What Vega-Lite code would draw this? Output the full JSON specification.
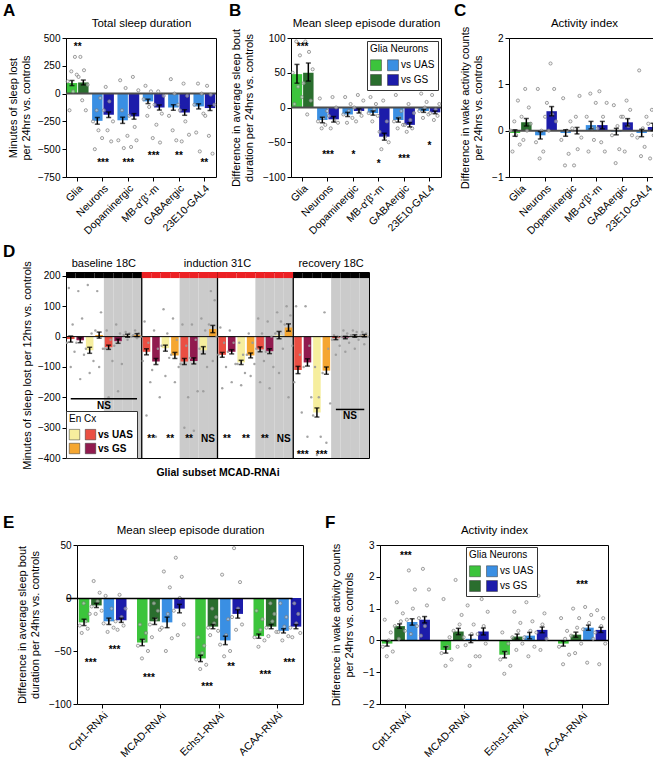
{
"$schema":"https://vega.github.io/schema/vega-lite/v6.json",
"padding":{"left":2,"top":1,"right":0,"bottom":0},
"background":"white",
"config":{"font":"Liberation Sans","view":{"stroke":"black","strokeWidth":1},
"axis":{"grid":false,"labelColor":"black","titleColor":"black","tickColor":"black","domainColor":"black","labelFontSize":10,"titleFontSize":11,"titleFontWeight":"normal","tickSize":4,"labelFont":"Liberation Sans","titleFont":"Liberation Sans"},
"legend":{"labelFont":"Liberation Sans","titleFont":"Liberation Sans"},
"title":{"font":"Liberation Sans"}},
"resolve":{"scale":{"color":"independent"},"legend":{"color":"independent"}},
"spacing":5,
"datasets":{
"A_bars":[
{"c":"Glia","o":"UAS","k":"Glia vs UAS","m":95,"lo":72,"hi":118},
{"c":"Glia","o":"GS","k":"Glia vs GS","m":100,"lo":78,"hi":122},
{"c":"Neurons","o":"UAS","k":"Neurons vs UAS","m":-245,"lo":-275,"hi":-215},
{"c":"Neurons","o":"GS","k":"Neurons vs GS","m":-190,"lo":-215,"hi":-165},
{"c":"Dopaminergic","o":"UAS","k":"Neurons vs UAS","m":-240,"lo":-268,"hi":-212},
{"c":"Dopaminergic","o":"GS","k":"Neurons vs GS","m":-205,"lo":-230,"hi":-180},
{"c":"MB-α'β'-m","o":"UAS","k":"Neurons vs UAS","m":-70,"lo":-90,"hi":-50},
{"c":"MB-α'β'-m","o":"GS","k":"Neurons vs GS","m":-125,"lo":-148,"hi":-102},
{"c":"GABAergic","o":"UAS","k":"Neurons vs UAS","m":-125,"lo":-150,"hi":-100},
{"c":"GABAergic","o":"GS","k":"Neurons vs GS","m":-170,"lo":-195,"hi":-145},
{"c":"23E10-GAL4","o":"UAS","k":"Neurons vs UAS","m":-115,"lo":-138,"hi":-92},
{"c":"23E10-GAL4","o":"GS","k":"Neurons vs GS","m":-130,"lo":-152,"hi":-108}],
"A_dots":[
{"c":"Glia","s":0,"v":110},{"c":"Glia","s":1,"v":-150},{"c":"Glia","s":2,"v":200},{"c":"Glia","s":3,"v":20},{"c":"Glia","s":4,"v":330},{"c":"Glia","s":5,"v":170},
{"c":"Glia","s":6,"v":150},{"c":"Glia","s":7,"v":330},{"c":"Glia","s":8,"v":-60},{"c":"Glia","s":9,"v":210},{"c":"Glia","s":10,"v":-150},{"c":"Glia","s":11,"v":80},
{"c":"Neurons","s":0,"v":-250},{"c":"Neurons","s":1,"v":-500},{"c":"Neurons","s":2,"v":-150},{"c":"Neurons","s":3,"v":-330},{"c":"Neurons","s":4,"v":-40},{"c":"Neurons","s":5,"v":-400},
{"c":"Neurons","s":6,"v":-150},{"c":"Neurons","s":7,"v":60},{"c":"Neurons","s":8,"v":-330},{"c":"Neurons","s":9,"v":-70},{"c":"Neurons","s":10,"v":-430},{"c":"Neurons","s":11,"v":-250},
{"c":"Dopaminergic","s":0,"v":-420},{"c":"Dopaminergic","s":1,"v":120},{"c":"Dopaminergic","s":2,"v":-150},{"c":"Dopaminergic","s":3,"v":-490},{"c":"Dopaminergic","s":4,"v":50},{"c":"Dopaminergic","s":5,"v":-380},
{"c":"Dopaminergic","s":6,"v":-200},{"c":"Dopaminergic","s":7,"v":-480},{"c":"Dopaminergic","s":8,"v":150},{"c":"Dopaminergic","s":9,"v":-300},{"c":"Dopaminergic","s":10,"v":-420},{"c":"Dopaminergic","s":11,"v":30},
{"c":"MB-α'β'-m","s":0,"v":-50},{"c":"MB-α'β'-m","s":1,"v":70},{"c":"MB-α'β'-m","s":2,"v":-200},{"c":"MB-α'β'-m","s":3,"v":-120},{"c":"MB-α'β'-m","s":4,"v":20},{"c":"MB-α'β'-m","s":5,"v":-400},
{"c":"MB-α'β'-m","s":6,"v":-100},{"c":"MB-α'β'-m","s":7,"v":-280},{"c":"MB-α'β'-m","s":8,"v":20},{"c":"MB-α'β'-m","s":9,"v":-440},{"c":"MB-α'β'-m","s":10,"v":-180},{"c":"MB-α'β'-m","s":11,"v":-20},
{"c":"GABAergic","s":0,"v":-200},{"c":"GABAergic","s":1,"v":130},{"c":"GABAergic","s":2,"v":-330},{"c":"GABAergic","s":3,"v":0},{"c":"GABAergic","s":4,"v":-420},{"c":"GABAergic","s":5,"v":-100},
{"c":"GABAergic","s":6,"v":-150},{"c":"GABAergic","s":7,"v":-430},{"c":"GABAergic","s":8,"v":90},{"c":"GABAergic","s":9,"v":-250},{"c":"GABAergic","s":10,"v":-20},{"c":"GABAergic","s":11,"v":-370},
{"c":"23E10-GAL4","s":0,"v":-100},{"c":"23E10-GAL4","s":1,"v":-350},{"c":"23E10-GAL4","s":2,"v":90},{"c":"23E10-GAL4","s":3,"v":-520},{"c":"23E10-GAL4","s":4,"v":0},{"c":"23E10-GAL4","s":5,"v":-180},
{"c":"23E10-GAL4","s":6,"v":-200},{"c":"23E10-GAL4","s":7,"v":70},{"c":"23E10-GAL4","s":8,"v":-380},{"c":"23E10-GAL4","s":9,"v":-10},{"c":"23E10-GAL4","s":10,"v":-540},{"c":"23E10-GAL4","s":11,"v":-100}],
"A_stars":[
{"c":"Glia","t":"**","y":420},{"c":"Neurons","t":"***","y":-625},{"c":"Dopaminergic","t":"***","y":-625},{"c":"MB-α'β'-m","t":"***","y":-565},{"c":"GABAergic","t":"**","y":-565},{"c":"23E10-GAL4","t":"**","y":-625}],
"B_bars":[
{"c":"Glia","o":"UAS","k":"Glia vs UAS","m":48,"lo":35,"hi":62},
{"c":"Glia","o":"GS","k":"Glia vs GS","m":50,"lo":38,"hi":64},
{"c":"Neurons","o":"UAS","k":"Neurons vs UAS","m":-18,"lo":-22,"hi":-14},
{"c":"Neurons","o":"GS","k":"Neurons vs GS","m":-17,"lo":-21,"hi":-13},
{"c":"Dopaminergic","o":"UAS","k":"Neurons vs UAS","m":-10,"lo":-13,"hi":-7},
{"c":"Dopaminergic","o":"GS","k":"Neurons vs GS","m":-5,"lo":-8,"hi":-2},
{"c":"MB-α'β'-m","o":"UAS","k":"Neurons vs UAS","m":-8,"lo":-11,"hi":-5},
{"c":"MB-α'β'-m","o":"GS","k":"Neurons vs GS","m":-42,"lo":-47,"hi":-37},
{"c":"GABAergic","o":"UAS","k":"Neurons vs UAS","m":-18,"lo":-21,"hi":-15},
{"c":"GABAergic","o":"GS","k":"Neurons vs GS","m":-25,"lo":-28,"hi":-22},
{"c":"23E10-GAL4","o":"UAS","k":"Neurons vs UAS","m":-5,"lo":-7,"hi":-3},
{"c":"23E10-GAL4","o":"GS","k":"Neurons vs GS","m":-7,"lo":-9,"hi":-5}],
"B_dots":[
{"c":"Glia","s":0,"v":50},{"c":"Glia","s":1,"v":5},{"c":"Glia","s":2,"v":95},{"c":"Glia","s":3,"v":30},{"c":"Glia","s":4,"v":75},{"c":"Glia","s":5,"v":15},
{"c":"Glia","s":6,"v":35},{"c":"Glia","s":7,"v":95},{"c":"Glia","s":8,"v":-10},{"c":"Glia","s":9,"v":80},{"c":"Glia","s":10,"v":10},{"c":"Glia","s":11,"v":55},
{"c":"Neurons","s":0,"v":-20},{"c":"Neurons","s":1,"v":13},{"c":"Neurons","s":2,"v":-30},{"c":"Neurons","s":3,"v":-15},{"c":"Neurons","s":4,"v":-25},{"c":"Neurons","s":5,"v":-5},
{"c":"Neurons","s":6,"v":-12},{"c":"Neurons","s":7,"v":-30},{"c":"Neurons","s":8,"v":15},{"c":"Neurons","s":9,"v":-18},{"c":"Neurons","s":10,"v":0},{"c":"Neurons","s":11,"v":-22},
{"c":"Dopaminergic","s":0,"v":-10},{"c":"Dopaminergic","s":1,"v":15},{"c":"Dopaminergic","s":2,"v":-22},{"c":"Dopaminergic","s":3,"v":-5},{"c":"Dopaminergic","s":4,"v":5},{"c":"Dopaminergic","s":5,"v":-15},
{"c":"Dopaminergic","s":6,"v":0},{"c":"Dopaminergic","s":7,"v":-20},{"c":"Dopaminergic","s":8,"v":18},{"c":"Dopaminergic","s":9,"v":-5},{"c":"Dopaminergic","s":10,"v":-12},{"c":"Dopaminergic","s":11,"v":10},
{"c":"MB-α'β'-m","s":0,"v":-8},{"c":"MB-α'β'-m","s":1,"v":15},{"c":"MB-α'β'-m","s":2,"v":-20},{"c":"MB-α'β'-m","s":3,"v":-3},{"c":"MB-α'β'-m","s":4,"v":5},{"c":"MB-α'β'-m","s":5,"v":-12},
{"c":"MB-α'β'-m","s":6,"v":-35},{"c":"MB-α'β'-m","s":7,"v":-60},{"c":"MB-α'β'-m","s":8,"v":10},{"c":"MB-α'β'-m","s":9,"v":-42},{"c":"MB-α'β'-m","s":10,"v":-20},{"c":"MB-α'β'-m","s":11,"v":-50},
{"c":"GABAergic","s":0,"v":-20},{"c":"GABAergic","s":1,"v":18},{"c":"GABAergic","s":2,"v":-30},{"c":"GABAergic","s":3,"v":-15},{"c":"GABAergic","s":4,"v":-5},{"c":"GABAergic","s":5,"v":-25},
{"c":"GABAergic","s":6,"v":-25},{"c":"GABAergic","s":7,"v":-35},{"c":"GABAergic","s":8,"v":5},{"c":"GABAergic","s":9,"v":-18},{"c":"GABAergic","s":10,"v":-30},{"c":"GABAergic","s":11,"v":-8},
{"c":"23E10-GAL4","s":0,"v":-5},{"c":"23E10-GAL4","s":1,"v":20},{"c":"23E10-GAL4","s":2,"v":-15},{"c":"23E10-GAL4","s":3,"v":0},{"c":"23E10-GAL4","s":4,"v":8},{"c":"23E10-GAL4","s":5,"v":-10},
{"c":"23E10-GAL4","s":6,"v":-8},{"c":"23E10-GAL4","s":7,"v":18},{"c":"23E10-GAL4","s":8,"v":-18},{"c":"23E10-GAL4","s":9,"v":-3},{"c":"23E10-GAL4","s":10,"v":-12},{"c":"23E10-GAL4","s":11,"v":5}],
"B_stars":[
{"c":"Glia","t":"***","y":87},{"c":"Neurons","t":"***","y":-68},{"c":"Dopaminergic","t":"*","y":-68},{"c":"MB-α'β'-m","t":"*","y":-81},{"c":"GABAergic","t":"***","y":-74},{"c":"23E10-GAL4","t":"*","y":-55}],
"C_bars":[
{"c":"Glia","o":"UAS","k":"Glia vs UAS","m":-0.05,"lo":-0.12,"hi":0.02},
{"c":"Glia","o":"GS","k":"Glia vs GS","m":0.18,"lo":0.1,"hi":0.26},
{"c":"Neurons","o":"UAS","k":"Neurons vs UAS","m":-0.1,"lo":-0.18,"hi":-0.02},
{"c":"Neurons","o":"GS","k":"Neurons vs GS","m":0.42,"lo":0.32,"hi":0.52},
{"c":"Dopaminergic","o":"UAS","k":"Neurons vs UAS","m":-0.05,"lo":-0.12,"hi":0.02},
{"c":"Dopaminergic","o":"GS","k":"Neurons vs GS","m":0.0,"lo":-0.07,"hi":0.07},
{"c":"MB-α'β'-m","o":"UAS","k":"Neurons vs UAS","m":0.12,"lo":0.04,"hi":0.2},
{"c":"MB-α'β'-m","o":"GS","k":"Neurons vs GS","m":0.12,"lo":0.04,"hi":0.2},
{"c":"GABAergic","o":"UAS","k":"Neurons vs UAS","m":-0.02,"lo":-0.09,"hi":0.05},
{"c":"GABAergic","o":"GS","k":"Neurons vs GS","m":0.18,"lo":0.1,"hi":0.26},
{"c":"23E10-GAL4","o":"UAS","k":"Neurons vs UAS","m":-0.05,"lo":-0.13,"hi":0.03},
{"c":"23E10-GAL4","o":"GS","k":"Neurons vs GS","m":0.08,"lo":0.0,"hi":0.16}],
"C_dots":[
{"c":"Glia","s":0,"v":0},{"c":"Glia","s":1,"v":-0.45},{"c":"Glia","s":2,"v":0.2},{"c":"Glia","s":3,"v":-0.1},{"c":"Glia","s":4,"v":0.65},{"c":"Glia","s":5,"v":-0.3},
{"c":"Glia","s":6,"v":0.3},{"c":"Glia","s":7,"v":-0.2},{"c":"Glia","s":8,"v":0.9},{"c":"Glia","s":9,"v":0},{"c":"Glia","s":10,"v":0.5},{"c":"Glia","s":11,"v":0.15},
{"c":"Neurons","s":0,"v":-0.25},{"c":"Neurons","s":1,"v":0.9},{"c":"Neurons","s":2,"v":-0.6},{"c":"Neurons","s":3,"v":0},{"c":"Neurons","s":4,"v":-0.45},{"c":"Neurons","s":5,"v":0.3},
{"c":"Neurons","s":6,"v":0.6},{"c":"Neurons","s":7,"v":0},{"c":"Neurons","s":8,"v":1.45},{"c":"Neurons","s":9,"v":0.35},{"c":"Neurons","s":10,"v":0.9},{"c":"Neurons","s":11,"v":0.2},
{"c":"Dopaminergic","s":0,"v":-0.2},{"c":"Dopaminergic","s":1,"v":0.7},{"c":"Dopaminergic","s":2,"v":-0.75},{"c":"Dopaminergic","s":3,"v":0},{"c":"Dopaminergic","s":4,"v":-0.5},{"c":"Dopaminergic","s":5,"v":0.2},
{"c":"Dopaminergic","s":6,"v":0.05},{"c":"Dopaminergic","s":7,"v":-0.75},{"c":"Dopaminergic","s":8,"v":0.3},{"c":"Dopaminergic","s":9,"v":-0.4},{"c":"Dopaminergic","s":10,"v":0.75},{"c":"Dopaminergic","s":11,"v":-0.15},
{"c":"MB-α'β'-m","s":0,"v":0.3},{"c":"MB-α'β'-m","s":1,"v":-0.45},{"c":"MB-α'β'-m","s":2,"v":0.8},{"c":"MB-α'β'-m","s":3,"v":0.05},{"c":"MB-α'β'-m","s":4,"v":-0.2},{"c":"MB-α'β'-m","s":5,"v":0.6},
{"c":"MB-α'β'-m","s":6,"v":0.05},{"c":"MB-α'β'-m","s":7,"v":0.85},{"c":"MB-α'β'-m","s":8,"v":-0.25},{"c":"MB-α'β'-m","s":9,"v":0.3},{"c":"MB-α'β'-m","s":10,"v":-0.45},{"c":"MB-α'β'-m","s":11,"v":0.6},
{"c":"GABAergic","s":0,"v":-0.1},{"c":"GABAergic","s":1,"v":0.55},{"c":"GABAergic","s":2,"v":-0.7},{"c":"GABAergic","s":3,"v":0.1},{"c":"GABAergic","s":4,"v":-0.4},{"c":"GABAergic","s":5,"v":0.3},
{"c":"GABAergic","s":6,"v":0.3},{"c":"GABAergic","s":7,"v":-0.45},{"c":"GABAergic","s":8,"v":0.65},{"c":"GABAergic","s":9,"v":0.1},{"c":"GABAergic","s":10,"v":0.45},{"c":"GABAergic","s":11,"v":-0.1},
{"c":"23E10-GAL4","s":0,"v":-0.15},{"c":"23E10-GAL4","s":1,"v":1.3},{"c":"23E10-GAL4","s":2,"v":-0.55},{"c":"23E10-GAL4","s":3,"v":0.05},{"c":"23E10-GAL4","s":4,"v":-0.35},{"c":"23E10-GAL4","s":5,"v":0.3},
{"c":"23E10-GAL4","s":6,"v":0.15},{"c":"23E10-GAL4","s":7,"v":-0.6},{"c":"23E10-GAL4","s":8,"v":0.45},{"c":"23E10-GAL4","s":9,"v":-0.1},{"c":"23E10-GAL4","s":10,"v":1.4},{"c":"23E10-GAL4","s":11,"v":-0.35}],
"E_bars":[
{"c":"Cpt1-RNAi","k":"Glia vs UAS","m":-23,"lo":-26,"hi":-20},{"c":"Cpt1-RNAi","k":"Glia vs GS","m":-7,"lo":-9,"hi":-5},{"c":"Cpt1-RNAi","k":"Neurons vs UAS","m":-22,"lo":-25,"hi":-19},{"c":"Cpt1-RNAi","k":"Neurons vs GS","m":-21,"lo":-23,"hi":-19},
{"c":"MCAD-RNAi","k":"Glia vs UAS","m":-42,"lo":-45,"hi":-39},{"c":"MCAD-RNAi","k":"Glia vs GS","m":-22,"lo":-25,"hi":-19},{"c":"MCAD-RNAi","k":"Neurons vs UAS","m":-23,"lo":-28,"hi":-18},{"c":"MCAD-RNAi","k":"Neurons vs GS","m":-10,"lo":-14,"hi":-6},
{"c":"Echs1-RNAi","k":"Glia vs UAS","m":-57,"lo":-60,"hi":-54},{"c":"Echs1-RNAi","k":"Glia vs GS","m":-27,"lo":-29,"hi":-25},{"c":"Echs1-RNAi","k":"Neurons vs UAS","m":-40,"lo":-44,"hi":-36},{"c":"Echs1-RNAi","k":"Neurons vs GS","m":-15,"lo":-19,"hi":-11},
{"c":"ACAA-RNAi","k":"Glia vs UAS","m":-36,"lo":-38,"hi":-34},{"c":"ACAA-RNAi","k":"Glia vs GS","m":-27,"lo":-29,"hi":-25},{"c":"ACAA-RNAi","k":"Neurons vs UAS","m":-31,"lo":-33,"hi":-29},{"c":"ACAA-RNAi","k":"Neurons vs GS","m":-27,"lo":-29,"hi":-25}],
"E_dots":[
{"c":"Cpt1-RNAi","s":0,"v":-26},{"c":"Cpt1-RNAi","s":1,"v":-33},{"c":"Cpt1-RNAi","s":2,"v":-5},{"c":"Cpt1-RNAi","s":3,"v":-22},{"c":"Cpt1-RNAi","s":4,"v":-29},{"c":"Cpt1-RNAi","s":5,"v":-15},
{"c":"Cpt1-RNAi","s":6,"v":-8},{"c":"Cpt1-RNAi","s":7,"v":16},{"c":"Cpt1-RNAi","s":8,"v":-15},{"c":"Cpt1-RNAi","s":9,"v":-3},{"c":"Cpt1-RNAi","s":10,"v":5},{"c":"Cpt1-RNAi","s":11,"v":-12},
{"c":"Cpt1-RNAi","s":12,"v":-24},{"c":"Cpt1-RNAi","s":13,"v":2},{"c":"Cpt1-RNAi","s":14,"v":-32},{"c":"Cpt1-RNAi","s":15,"v":-20},{"c":"Cpt1-RNAi","s":16,"v":-10},{"c":"Cpt1-RNAi","s":17,"v":-28},
{"c":"Cpt1-RNAi","s":18,"v":-22},{"c":"Cpt1-RNAi","s":19,"v":-30},{"c":"Cpt1-RNAi","s":20,"v":3},{"c":"Cpt1-RNAi","s":21,"v":-18},{"c":"Cpt1-RNAi","s":22,"v":-26},{"c":"Cpt1-RNAi","s":23,"v":-10},
{"c":"MCAD-RNAi","s":0,"v":-45},{"c":"MCAD-RNAi","s":1,"v":-25},{"c":"MCAD-RNAi","s":2,"v":-57},{"c":"MCAD-RNAi","s":3,"v":-40},{"c":"MCAD-RNAi","s":4,"v":-33},{"c":"MCAD-RNAi","s":5,"v":-50},
{"c":"MCAD-RNAi","s":6,"v":-25},{"c":"MCAD-RNAi","s":7,"v":-37},{"c":"MCAD-RNAi","s":8,"v":-5},{"c":"MCAD-RNAi","s":9,"v":-20},{"c":"MCAD-RNAi","s":10,"v":-12},{"c":"MCAD-RNAi","s":11,"v":-30},
{"c":"MCAD-RNAi","s":12,"v":-28},{"c":"MCAD-RNAi","s":13,"v":25},{"c":"MCAD-RNAi","s":14,"v":-50},{"c":"MCAD-RNAi","s":15,"v":-15},{"c":"MCAD-RNAi","s":16,"v":10},{"c":"MCAD-RNAi","s":17,"v":-38},
{"c":"MCAD-RNAi","s":18,"v":-12},{"c":"MCAD-RNAi","s":19,"v":38},{"c":"MCAD-RNAi","s":20,"v":-35},{"c":"MCAD-RNAi","s":21,"v":0},{"c":"MCAD-RNAi","s":22,"v":20},{"c":"MCAD-RNAi","s":23,"v":-25},
{"c":"Echs1-RNAi","s":0,"v":-58},{"c":"Echs1-RNAi","s":1,"v":-37},{"c":"Echs1-RNAi","s":2,"v":-67},{"c":"Echs1-RNAi","s":3,"v":-52},{"c":"Echs1-RNAi","s":4,"v":-45},{"c":"Echs1-RNAi","s":5,"v":-63},
{"c":"Echs1-RNAi","s":6,"v":-28},{"c":"Echs1-RNAi","s":7,"v":-35},{"c":"Echs1-RNAi","s":8,"v":-10},{"c":"Echs1-RNAi","s":9,"v":-24},{"c":"Echs1-RNAi","s":10,"v":-18},{"c":"Echs1-RNAi","s":11,"v":-31},
{"c":"Echs1-RNAi","s":12,"v":-44},{"c":"Echs1-RNAi","s":13,"v":22},{"c":"Echs1-RNAi","s":14,"v":-55},{"c":"Echs1-RNAi","s":15,"v":-35},{"c":"Echs1-RNAi","s":16,"v":-20},{"c":"Echs1-RNAi","s":17,"v":-50},
{"c":"Echs1-RNAi","s":18,"v":-18},{"c":"Echs1-RNAi","s":19,"v":47},{"c":"Echs1-RNAi","s":20,"v":-30},{"c":"Echs1-RNAi","s":21,"v":-10},{"c":"Echs1-RNAi","s":22,"v":15},{"c":"Echs1-RNAi","s":23,"v":-25},
{"c":"ACAA-RNAi","s":0,"v":-37},{"c":"ACAA-RNAi","s":1,"v":-12},{"c":"ACAA-RNAi","s":2,"v":-46},{"c":"ACAA-RNAi","s":3,"v":-30},{"c":"ACAA-RNAi","s":4,"v":-20},{"c":"ACAA-RNAi","s":5,"v":-40},
{"c":"ACAA-RNAi","s":6,"v":-28},{"c":"ACAA-RNAi","s":7,"v":-36},{"c":"ACAA-RNAi","s":8,"v":-5},{"c":"ACAA-RNAi","s":9,"v":-22},{"c":"ACAA-RNAi","s":10,"v":-15},{"c":"ACAA-RNAi","s":11,"v":-32},
{"c":"ACAA-RNAi","s":12,"v":-32},{"c":"ACAA-RNAi","s":13,"v":-5},{"c":"ACAA-RNAi","s":14,"v":-40},{"c":"ACAA-RNAi","s":15,"v":-27},{"c":"ACAA-RNAi","s":16,"v":-18},{"c":"ACAA-RNAi","s":17,"v":-36},
{"c":"ACAA-RNAi","s":18,"v":-28},{"c":"ACAA-RNAi","s":19,"v":-37},{"c":"ACAA-RNAi","s":20,"v":-5},{"c":"ACAA-RNAi","s":21,"v":-24},{"c":"ACAA-RNAi","s":22,"v":-15},{"c":"ACAA-RNAi","s":23,"v":-33}],
"E_stars":[
{"c":"Cpt1-RNAi","p":"g","t":"***","y":-61},{"c":"Cpt1-RNAi","p":"n","t":"***","y":-49},{"c":"MCAD-RNAi","p":"g","t":"***","y":-75},{"c":"Echs1-RNAi","p":"g","t":"***","y":-84},{"c":"Echs1-RNAi","p":"n","t":"**","y":-65},{"c":"ACAA-RNAi","p":"g","t":"***","y":-73},{"c":"ACAA-RNAi","p":"n","t":"***","y":-61}],
"F_bars":[
{"c":"Cpt1-RNAi","k":"Glia vs UAS","m":-0.1,"lo":-0.18,"hi":-0.02},{"c":"Cpt1-RNAi","k":"Glia vs GS","m":0.45,"lo":0.38,"hi":0.52},{"c":"Cpt1-RNAi","k":"Neurons vs UAS","m":0.58,"lo":0.48,"hi":0.68},{"c":"Cpt1-RNAi","k":"Neurons vs GS","m":0.65,"lo":0.55,"hi":0.75},
{"c":"MCAD-RNAi","k":"Glia vs UAS","m":-0.3,"lo":-0.4,"hi":-0.2},{"c":"MCAD-RNAi","k":"Glia vs GS","m":0.28,"lo":0.18,"hi":0.38},{"c":"MCAD-RNAi","k":"Neurons vs UAS","m":0.05,"lo":-0.07,"hi":0.17},{"c":"MCAD-RNAi","k":"Neurons vs GS","m":0.28,"lo":0.17,"hi":0.39},
{"c":"Echs1-RNAi","k":"Glia vs UAS","m":-0.45,"lo":-0.55,"hi":-0.35},{"c":"Echs1-RNAi","k":"Glia vs GS","m":0.12,"lo":0.04,"hi":0.2},{"c":"Echs1-RNAi","k":"Neurons vs UAS","m":0.15,"lo":0.05,"hi":0.25},{"c":"Echs1-RNAi","k":"Neurons vs GS","m":0.33,"lo":0.24,"hi":0.42},
{"c":"ACAA-RNAi","k":"Glia vs UAS","m":-0.1,"lo":-0.18,"hi":-0.02},{"c":"ACAA-RNAi","k":"Glia vs GS","m":0.18,"lo":0.1,"hi":0.26},{"c":"ACAA-RNAi","k":"Neurons vs UAS","m":0.4,"lo":0.32,"hi":0.48},{"c":"ACAA-RNAi","k":"Neurons vs GS","m":0.33,"lo":0.25,"hi":0.41}],
"F_dots":[
{"c":"Cpt1-RNAi","s":0,"v":-0.2},{"c":"Cpt1-RNAi","s":1,"v":0.65},{"c":"Cpt1-RNAi","s":2,"v":-0.5},{"c":"Cpt1-RNAi","s":3,"v":0},{"c":"Cpt1-RNAi","s":4,"v":0.25},{"c":"Cpt1-RNAi","s":5,"v":-0.35},
{"c":"Cpt1-RNAi","s":6,"v":0.45},{"c":"Cpt1-RNAi","s":7,"v":1.2},{"c":"Cpt1-RNAi","s":8,"v":0.05},{"c":"Cpt1-RNAi","s":9,"v":0.6},{"c":"Cpt1-RNAi","s":10,"v":0.85},{"c":"Cpt1-RNAi","s":11,"v":0.3},
{"c":"Cpt1-RNAi","s":12,"v":0.65},{"c":"Cpt1-RNAi","s":13,"v":2.2},{"c":"Cpt1-RNAi","s":14,"v":0.2},{"c":"Cpt1-RNAi","s":15,"v":1.0},{"c":"Cpt1-RNAi","s":16,"v":1.6},{"c":"Cpt1-RNAi","s":17,"v":0.45},
{"c":"Cpt1-RNAi","s":18,"v":0.7},{"c":"Cpt1-RNAi","s":19,"v":0.15},{"c":"Cpt1-RNAi","s":20,"v":2.25},{"c":"Cpt1-RNAi","s":21,"v":0.45},{"c":"Cpt1-RNAi","s":22,"v":1.1},{"c":"Cpt1-RNAi","s":23,"v":1.6},
{"c":"MCAD-RNAi","s":0,"v":-0.4},{"c":"MCAD-RNAi","s":1,"v":1.3},{"c":"MCAD-RNAi","s":2,"v":-0.8},{"c":"MCAD-RNAi","s":3,"v":-0.2},{"c":"MCAD-RNAi","s":4,"v":0.1},{"c":"MCAD-RNAi","s":5,"v":-0.6},
{"c":"MCAD-RNAi","s":6,"v":0.3},{"c":"MCAD-RNAi","s":7,"v":1.9},{"c":"MCAD-RNAi","s":8,"v":-0.2},{"c":"MCAD-RNAi","s":9,"v":0.5},{"c":"MCAD-RNAi","s":10,"v":0.8},{"c":"MCAD-RNAi","s":11,"v":0.1},
{"c":"MCAD-RNAi","s":12,"v":-0.15},{"c":"MCAD-RNAi","s":13,"v":1.1},{"c":"MCAD-RNAi","s":14,"v":-0.8},{"c":"MCAD-RNAi","s":15,"v":0.2},{"c":"MCAD-RNAi","s":16,"v":0.5},{"c":"MCAD-RNAi","s":17,"v":-0.5},
{"c":"MCAD-RNAi","s":18,"v":0.2},{"c":"MCAD-RNAi","s":19,"v":-0.5},{"c":"MCAD-RNAi","s":20,"v":1.3},{"c":"MCAD-RNAi","s":21,"v":0.45},{"c":"MCAD-RNAi","s":22,"v":-0.1},{"c":"MCAD-RNAi","s":23,"v":0.9},
{"c":"Echs1-RNAi","s":0,"v":-0.6},{"c":"Echs1-RNAi","s":1,"v":0.25},{"c":"Echs1-RNAi","s":2,"v":-1.05},{"c":"Echs1-RNAi","s":3,"v":-0.4},{"c":"Echs1-RNAi","s":4,"v":-0.1},{"c":"Echs1-RNAi","s":5,"v":-0.8},
{"c":"Echs1-RNAi","s":6,"v":0.1},{"c":"Echs1-RNAi","s":7,"v":0.9},{"c":"Echs1-RNAi","s":8,"v":-0.3},{"c":"Echs1-RNAi","s":9,"v":0.3},{"c":"Echs1-RNAi","s":10,"v":0.55},{"c":"Echs1-RNAi","s":11,"v":-0.1},
{"c":"Echs1-RNAi","s":12,"v":0.1},{"c":"Echs1-RNAi","s":13,"v":1.2},{"c":"Echs1-RNAi","s":14,"v":-0.5},{"c":"Echs1-RNAi","s":15,"v":0.3},{"c":"Echs1-RNAi","s":16,"v":0.6},{"c":"Echs1-RNAi","s":17,"v":-0.2},
{"c":"Echs1-RNAi","s":18,"v":0.25},{"c":"Echs1-RNAi","s":19,"v":1.4},{"c":"Echs1-RNAi","s":20,"v":-0.3},{"c":"Echs1-RNAi","s":21,"v":0.5},{"c":"Echs1-RNAi","s":22,"v":0.85},{"c":"Echs1-RNAi","s":23,"v":0.05},
{"c":"ACAA-RNAi","s":0,"v":-0.2},{"c":"ACAA-RNAi","s":1,"v":0.7},{"c":"ACAA-RNAi","s":2,"v":-0.75},{"c":"ACAA-RNAi","s":3,"v":0.05},{"c":"ACAA-RNAi","s":4,"v":0.3},{"c":"ACAA-RNAi","s":5,"v":-0.45},
{"c":"ACAA-RNAi","s":6,"v":0.15},{"c":"ACAA-RNAi","s":7,"v":1.0},{"c":"ACAA-RNAi","s":8,"v":-0.4},{"c":"ACAA-RNAi","s":9,"v":0.4},{"c":"ACAA-RNAi","s":10,"v":0.7},{"c":"ACAA-RNAi","s":11,"v":-0.1},
{"c":"ACAA-RNAi","s":12,"v":0.35},{"c":"ACAA-RNAi","s":13,"v":1.05},{"c":"ACAA-RNAi","s":14,"v":-0.7},{"c":"ACAA-RNAi","s":15,"v":0.55},{"c":"ACAA-RNAi","s":16,"v":0.8},{"c":"ACAA-RNAi","s":17,"v":0.05},
{"c":"ACAA-RNAi","s":18,"v":0.25},{"c":"ACAA-RNAi","s":19,"v":0.95},{"c":"ACAA-RNAi","s":20,"v":-0.75},{"c":"ACAA-RNAi","s":21,"v":0.45},{"c":"ACAA-RNAi","s":22,"v":0.7},{"c":"ACAA-RNAi","s":23,"v":-0.1}],
"F_stars":[{"c":"Cpt1-RNAi","p":"n","t":"***","y":2.65},{"c":"ACAA-RNAi","p":"n","t":"***","y":1.74}],
"D_bars":[
{"s":0,"k":"Cx vs UAS","m":-8,"lo":-18,"hi":2},{"s":1,"k":"Cx vs GS","m":-12,"lo":-20,"hi":-4},{"s":2,"k":"En vs UAS","m":-45,"lo":-55,"hi":-35},{"s":3,"k":"En vs GS","m":5,"lo":-5,"hi":15},
{"s":4,"k":"Cx vs UAS","m":-35,"lo":-42,"hi":-28},{"s":5,"k":"Cx vs GS","m":-15,"lo":-22,"hi":-8},{"s":6,"k":"En vs UAS","m":3,"lo":-2,"hi":8},{"s":7,"k":"En vs GS","m":5,"lo":0,"hi":10},
{"s":8,"k":"Cx vs UAS","m":-50,"lo":-60,"hi":-40},{"s":9,"k":"Cx vs GS","m":-82,"lo":-92,"hi":-72},{"s":10,"k":"En vs UAS","m":-38,"lo":-48,"hi":-28},{"s":11,"k":"En vs GS","m":-62,"lo":-72,"hi":-52},
{"s":12,"k":"Cx vs UAS","m":-82,"lo":-92,"hi":-72},{"s":13,"k":"Cx vs GS","m":-80,"lo":-90,"hi":-70},{"s":14,"k":"En vs UAS","m":-45,"lo":-57,"hi":-33},{"s":15,"k":"En vs GS","m":25,"lo":13,"hi":37},
{"s":16,"k":"Cx vs UAS","m":-60,"lo":-68,"hi":-52},{"s":17,"k":"Cx vs GS","m":-50,"lo":-57,"hi":-43},{"s":18,"k":"En vs UAS","m":-85,"lo":-92,"hi":-78},{"s":19,"k":"En vs GS","m":-62,"lo":-70,"hi":-54},
{"s":20,"k":"Cx vs UAS","m":-42,"lo":-50,"hi":-34},{"s":21,"k":"Cx vs GS","m":-48,"lo":-56,"hi":-40},{"s":22,"k":"En vs UAS","m":5,"lo":-7,"hi":17},{"s":23,"k":"En vs GS","m":30,"lo":18,"hi":42},
{"s":24,"k":"Cx vs UAS","m":-110,"lo":-122,"hi":-98},{"s":25,"k":"Cx vs GS","m":-85,"lo":-97,"hi":-73},{"s":26,"k":"En vs UAS","m":-250,"lo":-265,"hi":-235},{"s":27,"k":"En vs GS","m":-112,"lo":-124,"hi":-100},
{"s":28,"k":"Cx vs UAS","m":-5,"lo":-10,"hi":0},{"s":29,"k":"Cx vs GS","m":-3,"lo":-7,"hi":1},{"s":30,"k":"En vs UAS","m":2,"lo":-2,"hi":6},{"s":31,"k":"En vs GS","m":3,"lo":-1,"hi":7}],
"D_dots":[
{"s":0,"j":0,"v":-20},{"s":0,"j":1,"v":160},{"s":0,"j":2,"v":-100},{"s":0,"j":3,"v":40},{"s":0,"j":4,"v":-50},
{"s":1,"j":0,"v":-20},{"s":1,"j":1,"v":150},{"s":1,"j":2,"v":-140},{"s":1,"j":3,"v":60},{"s":1,"j":4,"v":-60},
{"s":2,"j":0,"v":-40},{"s":2,"j":1,"v":170},{"s":2,"j":2,"v":-120},{"s":2,"j":3,"v":10},{"s":2,"j":4,"v":-80},
{"s":3,"j":0,"v":20},{"s":3,"j":1,"v":150},{"s":3,"j":2,"v":-100},{"s":3,"j":3,"v":80},{"s":3,"j":4,"v":-40},
{"s":4,"j":0,"v":-40},{"s":4,"j":1,"v":20},{"s":4,"j":2,"v":-200},{"s":4,"j":3,"v":-10},{"s":4,"j":4,"v":-80},
{"s":5,"j":0,"v":-30},{"s":5,"j":1,"v":40},{"s":5,"j":2,"v":-180},{"s":5,"j":3,"v":10},{"s":5,"j":4,"v":-90},
{"s":6,"j":0,"v":5},{"s":6,"j":1,"v":15},{"s":6,"j":2,"v":-10},{"s":6,"j":3,"v":10},{"s":6,"j":4,"v":0},
{"s":7,"j":0,"v":5},{"s":7,"j":1,"v":20},{"s":7,"j":2,"v":-5},{"s":7,"j":3,"v":10},{"s":7,"j":4,"v":0},
{"s":8,"j":0,"v":-80},{"s":8,"j":1,"v":50},{"s":8,"j":2,"v":-260},{"s":8,"j":3,"v":-20},{"s":8,"j":4,"v":-150},
{"s":9,"j":0,"v":-110},{"s":9,"j":1,"v":20},{"s":9,"j":2,"v":-330},{"s":9,"j":3,"v":-40},{"s":9,"j":4,"v":-200},
{"s":10,"j":0,"v":-30},{"s":10,"j":1,"v":90},{"s":10,"j":2,"v":-130},{"s":10,"j":3,"v":10},{"s":10,"j":4,"v":-70},
{"s":11,"j":0,"v":-60},{"s":11,"j":1,"v":60},{"s":11,"j":2,"v":-150},{"s":11,"j":3,"v":-10},{"s":11,"j":4,"v":-100},
{"s":12,"j":0,"v":-90},{"s":12,"j":1,"v":40},{"s":12,"j":2,"v":-300},{"s":12,"j":3,"v":-30},{"s":12,"j":4,"v":-200},
{"s":13,"j":0,"v":-70},{"s":13,"j":1,"v":40},{"s":13,"j":2,"v":-310},{"s":13,"j":3,"v":-10},{"s":13,"j":4,"v":-180},
{"s":14,"j":0,"v":-40},{"s":14,"j":1,"v":60},{"s":14,"j":2,"v":-180},{"s":14,"j":3,"v":20},{"s":14,"j":4,"v":-100},
{"s":15,"j":0,"v":40},{"s":15,"j":1,"v":150},{"s":15,"j":2,"v":-80},{"s":15,"j":3,"v":120},{"s":15,"j":4,"v":0},
{"s":16,"j":0,"v":-60},{"s":16,"j":1,"v":30},{"s":16,"j":2,"v":-170},{"s":16,"j":3,"v":-20},{"s":16,"j":4,"v":-100},
{"s":17,"j":0,"v":-50},{"s":17,"j":1,"v":20},{"s":17,"j":2,"v":-150},{"s":17,"j":3,"v":-20},{"s":17,"j":4,"v":-90},
{"s":18,"j":0,"v":-90},{"s":18,"j":1,"v":-20},{"s":18,"j":2,"v":-160},{"s":18,"j":3,"v":-60},{"s":18,"j":4,"v":-120},
{"s":19,"j":0,"v":-60},{"s":19,"j":1,"v":10},{"s":19,"j":2,"v":-130},{"s":19,"j":3,"v":-20},{"s":19,"j":4,"v":-90},
{"s":20,"j":0,"v":-40},{"s":20,"j":1,"v":60},{"s":20,"j":2,"v":-150},{"s":20,"j":3,"v":10},{"s":20,"j":4,"v":-80},
{"s":21,"j":0,"v":-50},{"s":21,"j":1,"v":50},{"s":21,"j":2,"v":-170},{"s":21,"j":3,"v":0},{"s":21,"j":4,"v":-100},
{"s":22,"j":0,"v":10},{"s":22,"j":1,"v":80},{"s":22,"j":2,"v":-120},{"s":22,"j":3,"v":50},{"s":22,"j":4,"v":-40},
{"s":23,"j":0,"v":40},{"s":23,"j":1,"v":100},{"s":23,"j":2,"v":-200},{"s":23,"j":3,"v":70},{"s":23,"j":4,"v":-30},
{"s":24,"j":0,"v":-150},{"s":24,"j":1,"v":100},{"s":24,"j":2,"v":-380},{"s":24,"j":3,"v":-60},{"s":24,"j":4,"v":-250},
{"s":25,"j":0,"v":-100},{"s":25,"j":1,"v":100},{"s":25,"j":2,"v":-330},{"s":25,"j":3,"v":-30},{"s":25,"j":4,"v":-200},
{"s":26,"j":0,"v":-260},{"s":26,"j":1,"v":-100},{"s":26,"j":2,"v":-390},{"s":26,"j":3,"v":-200},{"s":26,"j":4,"v":-330},
{"s":27,"j":0,"v":-120},{"s":27,"j":1,"v":80},{"s":27,"j":2,"v":-350},{"s":27,"j":3,"v":-40},{"s":27,"j":4,"v":-220},
{"s":28,"j":0,"v":-10},{"s":28,"j":1,"v":5},{"s":28,"j":2,"v":-60},{"s":28,"j":3,"v":0},{"s":28,"j":4,"v":-30},
{"s":29,"j":0,"v":0},{"s":29,"j":1,"v":20},{"s":29,"j":2,"v":-50},{"s":29,"j":3,"v":10},{"s":29,"j":4,"v":-20},
{"s":30,"j":0,"v":5},{"s":30,"j":1,"v":20},{"s":30,"j":2,"v":-40},{"s":30,"j":3,"v":15},{"s":30,"j":4,"v":-10},
{"s":31,"j":0,"v":5},{"s":31,"j":1,"v":15},{"s":31,"j":2,"v":-25},{"s":31,"j":3,"v":10},{"s":31,"j":4,"v":0}],
"D_slots":[
{"s":0,"ph":"base","bg":"w"},{"s":1,"ph":"base","bg":"w"},{"s":2,"ph":"base","bg":"w"},{"s":3,"ph":"base","bg":"w"},
{"s":4,"ph":"base","bg":"g"},{"s":5,"ph":"base","bg":"g"},{"s":6,"ph":"base","bg":"g"},{"s":7,"ph":"base","bg":"g"},
{"s":8,"ph":"ind","bg":"w"},{"s":9,"ph":"ind","bg":"w"},{"s":10,"ph":"ind","bg":"w"},{"s":11,"ph":"ind","bg":"w"},
{"s":12,"ph":"ind","bg":"g"},{"s":13,"ph":"ind","bg":"g"},{"s":14,"ph":"ind","bg":"g"},{"s":15,"ph":"ind","bg":"g"},
{"s":16,"ph":"ind","bg":"w"},{"s":17,"ph":"ind","bg":"w"},{"s":18,"ph":"ind","bg":"w"},{"s":19,"ph":"ind","bg":"w"},
{"s":20,"ph":"ind","bg":"g"},{"s":21,"ph":"ind","bg":"g"},{"s":22,"ph":"ind","bg":"g"},{"s":23,"ph":"ind","bg":"g"},
{"s":24,"ph":"rec","bg":"w"},{"s":25,"ph":"rec","bg":"w"},{"s":26,"ph":"rec","bg":"w"},{"s":27,"ph":"rec","bg":"w"},
{"s":28,"ph":"rec","bg":"g"},{"s":29,"ph":"rec","bg":"g"},{"s":30,"ph":"rec","bg":"g"},{"s":31,"ph":"rec","bg":"g"}],
"D_div":[{"s":8},{"s":16},{"s":24}],
"D_text":[
{"s":8,"t":"**","y":-338},{"s":10,"t":"**","y":-338},{"s":12,"t":"**","y":-338},{"s":14,"t":"NS","y":-338},
{"s":16,"t":"**","y":-338},{"s":18,"t":"**","y":-338},{"s":20,"t":"**","y":-338},{"s":22,"t":"NS","y":-338},
{"s":24,"t":"***","y":-390},{"s":26,"t":"***","y":-390},{"s":3,"t":"NS","y":-228},{"s":29,"t":"NS","y":-263}],
"D_ns":[{"s0":0,"s1":7,"y":-205},{"s0":28,"s1":31,"y":-240}]
},
"vconcat":[
{"hconcat":[
{"width":150,"height":139,
"title":{"text":"A","anchor":"start","frame":"group","fontSize":17,"fontWeight":"bold","dx":-63,"offset":-16,"baseline":"alphabetic","color":"black"},
"resolve":{"scale":{"xOffset":"independent"},"axis":{"x":"independent","y":"independent"}},
"layer":[
{"data":{"name":"A_bars"},"mark":{"type":"bar"},"encoding":{
"x":{"field":"c","type":"nominal","sort":["Glia","Neurons","Dopaminergic","MB-α'β'-m","GABAergic","23E10-GAL4"],"scale":{"paddingInner":0.14,"paddingOuter":0.03},"axis":{"title":null,"labelAngle":-45,"labelFontSize":10.5,"domain":false,"labelPadding":2}},
"xOffset":{"field":"o","type":"nominal","sort":["UAS","GS"],"scale":{"paddingInner":0.08}},
"y":{"field":"m","type":"quantitative","stack":null,"scale":{"domain":[-750,500],"nice":false},"axis":{"values":[-750,-500,-250,0,250,500],"title":["Minutes of sleep lost","per 24hrs vs. controls"],"titlePadding":6}},
"color":{"field":"k","type":"nominal","scale":{"domain":["Glia vs UAS","Glia vs GS","Neurons vs UAS","Neurons vs GS"],"range":["#3cc43c","#2a6e2e","#3a8fe3","#1c1caa"]},"legend":null}}},
{"data":{"values":[{}]},"mark":{"type":"rule","color":"#4d4d4d","strokeWidth":2},"encoding":{"y":{"datum":0,"type":"quantitative","axis":null}}},
{"data":{"name":"A_dots"},"mark":{"type":"point","shape":"circle","size":10,"filled":true,"fill":"#eeeeee","fillOpacity":0.5,"stroke":"#7a7a7a","strokeWidth":0.7},"encoding":{
"x":{"field":"c","type":"nominal","sort":["Glia","Neurons","Dopaminergic","MB-α'β'-m","GABAergic","23E10-GAL4"],"axis":null},
"xOffset":{"field":"s","type":"ordinal"},"y":{"field":"v","type":"quantitative","axis":null}}},
{"data":{"name":"A_bars"},"mark":{"type":"rule","color":"black","strokeWidth":1.5},"encoding":{
"x":{"field":"c","type":"nominal","sort":["Glia","Neurons","Dopaminergic","MB-α'β'-m","GABAergic","23E10-GAL4"],"axis":null},
"xOffset":{"field":"o","type":"nominal","sort":["UAS","GS"],"scale":{"paddingInner":0.08}},
"y":{"field":"lo","type":"quantitative","axis":null},"y2":{"field":"hi"}}},
{"data":{"name":"A_bars"},"mark":{"type":"tick","color":"black","size":5,"thickness":1.5,"orient":"horizontal"},"encoding":{
"x":{"field":"c","type":"nominal","sort":["Glia","Neurons","Dopaminergic","MB-α'β'-m","GABAergic","23E10-GAL4"],"axis":null},
"xOffset":{"field":"o","type":"nominal","sort":["UAS","GS"],"scale":{"paddingInner":0.08}},
"y":{"field":"lo","type":"quantitative","axis":null}}},
{"data":{"name":"A_bars"},"mark":{"type":"tick","color":"black","size":5,"thickness":1.5,"orient":"horizontal"},"encoding":{
"x":{"field":"c","type":"nominal","sort":["Glia","Neurons","Dopaminergic","MB-α'β'-m","GABAergic","23E10-GAL4"],"axis":{"orient":"top","title":"Total sleep duration","labels":false,"ticks":false,"domain":false,"titlePadding":10,"titleFontSize":11.5}},
"xOffset":{"field":"o","type":"nominal","sort":["UAS","GS"],"scale":{"paddingInner":0.08}},
"y":{"field":"hi","type":"quantitative","axis":null}}},
{"data":{"name":"A_stars"},"mark":{"type":"text","fontSize":10,"fontWeight":"bold","baseline":"middle","color":"black"},"encoding":{
"x":{"field":"c","type":"nominal","sort":["Glia","Neurons","Dopaminergic","MB-α'β'-m","GABAergic","23E10-GAL4"],"axis":null},
"y":{"field":"y","type":"quantitative","axis":null},"text":{"field":"t"}}}
]},
{"width":150,"height":139,
"title":{"text":"B","anchor":"start","frame":"group","fontSize":17,"fontWeight":"bold","dx":-62,"offset":-16,"baseline":"alphabetic","color":"black"},
"resolve":{"scale":{"xOffset":"independent"},"axis":{"x":"independent","y":"independent"}},
"layer":[
{"data":{"name":"B_bars"},"mark":{"type":"bar"},"encoding":{
"x":{"field":"c","type":"nominal","sort":["Glia","Neurons","Dopaminergic","MB-α'β'-m","GABAergic","23E10-GAL4"],"scale":{"paddingInner":0.14,"paddingOuter":0.03},"axis":{"title":null,"labelAngle":-45,"labelFontSize":10.5,"domain":false,"labelPadding":2}},
"xOffset":{"field":"o","type":"nominal","sort":["UAS","GS"],"scale":{"paddingInner":0.08}},
"y":{"field":"m","type":"quantitative","stack":null,"scale":{"domain":[-100,100],"nice":false},"axis":{"values":[-100,-50,0,50,100],"title":["Difference in average sleep bout","duration per 24hrs vs. controls"],"titlePadding":8}},
"color":{"field":"k","type":"nominal","scale":{"domain":["Glia vs UAS","Glia vs GS","Neurons vs UAS","Neurons vs GS"],"range":["#3cc43c","#2a6e2e","#3a8fe3","#1c1caa"]},
"legend":{"title":"Glia  Neurons","orient":"top-right","offset":3,"columns":2,"symbolType":"square","symbolSize":120,"symbolStrokeColor":"#333","symbolStrokeWidth":0.5,"labelExpr":"indexof(datum.label,'Glia')==0 ? '' : replace(datum.label,'Neurons ','')","fillColor":"white","strokeColor":"#333","padding":3,"titleFontWeight":"normal","titleFontSize":10,"labelFontSize":10,"columnPadding":2,"rowPadding":1,"labelOffset":2}}}},
{"data":{"values":[{}]},"mark":{"type":"rule","color":"#4d4d4d","strokeWidth":2},"encoding":{"y":{"datum":0,"type":"quantitative","axis":null}}},
{"data":{"name":"B_dots"},"mark":{"type":"point","shape":"circle","size":10,"filled":true,"fill":"#eeeeee","fillOpacity":0.5,"stroke":"#7a7a7a","strokeWidth":0.7},"encoding":{
"x":{"field":"c","type":"nominal","sort":["Glia","Neurons","Dopaminergic","MB-α'β'-m","GABAergic","23E10-GAL4"],"axis":null},
"xOffset":{"field":"s","type":"ordinal"},"y":{"field":"v","type":"quantitative","axis":null}}},
{"data":{"name":"B_bars"},"mark":{"type":"rule","color":"black","strokeWidth":1.5},"encoding":{
"x":{"field":"c","type":"nominal","sort":["Glia","Neurons","Dopaminergic","MB-α'β'-m","GABAergic","23E10-GAL4"],"axis":null},
"xOffset":{"field":"o","type":"nominal","sort":["UAS","GS"],"scale":{"paddingInner":0.08}},
"y":{"field":"lo","type":"quantitative","axis":null},"y2":{"field":"hi"}}},
{"data":{"name":"B_bars"},"mark":{"type":"tick","color":"black","size":5,"thickness":1.5,"orient":"horizontal"},"encoding":{
"x":{"field":"c","type":"nominal","sort":["Glia","Neurons","Dopaminergic","MB-α'β'-m","GABAergic","23E10-GAL4"],"axis":null},
"xOffset":{"field":"o","type":"nominal","sort":["UAS","GS"],"scale":{"paddingInner":0.08}},
"y":{"field":"lo","type":"quantitative","axis":null}}},
{"data":{"name":"B_bars"},"mark":{"type":"tick","color":"black","size":5,"thickness":1.5,"orient":"horizontal"},"encoding":{
"x":{"field":"c","type":"nominal","sort":["Glia","Neurons","Dopaminergic","MB-α'β'-m","GABAergic","23E10-GAL4"],"axis":{"orient":"top","title":"Mean sleep episode duration","labels":false,"ticks":false,"domain":false,"titlePadding":10,"titleFontSize":11.5}},
"xOffset":{"field":"o","type":"nominal","sort":["UAS","GS"],"scale":{"paddingInner":0.08}},
"y":{"field":"hi","type":"quantitative","axis":null}}},
{"data":{"name":"B_stars"},"mark":{"type":"text","fontSize":10,"fontWeight":"bold","baseline":"middle","color":"black"},"encoding":{
"x":{"field":"c","type":"nominal","sort":["Glia","Neurons","Dopaminergic","MB-α'β'-m","GABAergic","23E10-GAL4"],"axis":null},
"y":{"field":"y","type":"quantitative","axis":null},"text":{"field":"t"}}}
]},
{"width":150,"height":139,
"title":{"text":"C","anchor":"start","frame":"group","fontSize":17,"fontWeight":"bold","dx":-55,"offset":-16,"baseline":"alphabetic","color":"black"},
"resolve":{"scale":{"xOffset":"independent"},"axis":{"x":"independent","y":"independent"}},
"layer":[
{"data":{"name":"C_bars"},"mark":{"type":"bar"},"encoding":{
"x":{"field":"c","type":"nominal","sort":["Glia","Neurons","Dopaminergic","MB-α'β'-m","GABAergic","23E10-GAL4"],"scale":{"paddingInner":0.14,"paddingOuter":0.03},"axis":{"title":null,"labelAngle":-45,"labelFontSize":10.5,"domain":false,"labelPadding":2}},
"xOffset":{"field":"o","type":"nominal","sort":["UAS","GS"],"scale":{"paddingInner":0.08}},
"y":{"field":"m","type":"quantitative","stack":null,"scale":{"domain":[-1,2],"nice":false},"axis":{"values":[-1,0,1,2],"title":["Difference in wake activity counts","per 24hrs vs. controls"],"titlePadding":8}},
"color":{"field":"k","type":"nominal","scale":{"domain":["Glia vs UAS","Glia vs GS","Neurons vs UAS","Neurons vs GS"],"range":["#3cc43c","#2a6e2e","#3a8fe3","#1c1caa"]},"legend":null}}},
{"data":{"values":[{}]},"mark":{"type":"rule","color":"#4d4d4d","strokeWidth":2},"encoding":{"y":{"datum":0,"type":"quantitative","axis":null}}},
{"data":{"name":"C_dots"},"mark":{"type":"point","shape":"circle","size":10,"filled":true,"fill":"#eeeeee","fillOpacity":0.5,"stroke":"#7a7a7a","strokeWidth":0.7},"encoding":{
"x":{"field":"c","type":"nominal","sort":["Glia","Neurons","Dopaminergic","MB-α'β'-m","GABAergic","23E10-GAL4"],"axis":null},
"xOffset":{"field":"s","type":"ordinal"},"y":{"field":"v","type":"quantitative","axis":null}}},
{"data":{"name":"C_bars"},"mark":{"type":"rule","color":"black","strokeWidth":1.5},"encoding":{
"x":{"field":"c","type":"nominal","sort":["Glia","Neurons","Dopaminergic","MB-α'β'-m","GABAergic","23E10-GAL4"],"axis":null},
"xOffset":{"field":"o","type":"nominal","sort":["UAS","GS"],"scale":{"paddingInner":0.08}},
"y":{"field":"lo","type":"quantitative","axis":null},"y2":{"field":"hi"}}},
{"data":{"name":"C_bars"},"mark":{"type":"tick","color":"black","size":5,"thickness":1.5,"orient":"horizontal"},"encoding":{
"x":{"field":"c","type":"nominal","sort":["Glia","Neurons","Dopaminergic","MB-α'β'-m","GABAergic","23E10-GAL4"],"axis":null},
"xOffset":{"field":"o","type":"nominal","sort":["UAS","GS"],"scale":{"paddingInner":0.08}},
"y":{"field":"lo","type":"quantitative","axis":null}}},
{"data":{"name":"C_bars"},"mark":{"type":"tick","color":"black","size":5,"thickness":1.5,"orient":"horizontal"},"encoding":{
"x":{"field":"c","type":"nominal","sort":["Glia","Neurons","Dopaminergic","MB-α'β'-m","GABAergic","23E10-GAL4"],"axis":{"orient":"top","title":"Activity index","labels":false,"ticks":false,"domain":false,"titlePadding":10,"titleFontSize":11.5}},
"xOffset":{"field":"o","type":"nominal","sort":["UAS","GS"],"scale":{"paddingInner":0.08}},
"y":{"field":"hi","type":"quantitative","axis":null}}}
]}
],"spacing":10,"resolve":{"scale":{"color":"independent"},"legend":{"color":"independent"}}},
{"width":303,"height":186,
"title":{"text":"D","anchor":"start","frame":"group","fontSize":17,"fontWeight":"bold","dx":-63,"offset":-17,"baseline":"alphabetic","color":"black"},
"resolve":{"scale":{"xOffset":"independent"},"axis":{"x":"independent","y":"independent"}},
"layer":[
{"data":{"name":"D_slots"},"transform":[{"filter":"datum.bg == 'g'"}],"mark":{"type":"bar","color":"#cbcbcb"},"encoding":{
"x":{"field":"s","type":"ordinal","scale":{"paddingInner":0,"paddingOuter":0},"axis":null},
"y":{"datum":-400,"type":"quantitative","scale":{"domain":[-400,213],"nice":false},"axis":{"values":[-400,-300,-200,-100,0,100,200],"title":"Minutes of sleep lost  per 12hrs vs. controls","titlePadding":5}},
"y2":{"datum":193}}},
{"data":{"name":"D_div"},"mark":{"type":"rule","color":"black","strokeWidth":1.3},"encoding":{
"x":{"field":"s","type":"ordinal","bandPosition":0,"axis":null}}},
{"data":{"name":"D_bars"},"mark":{"type":"bar","width":{"band":0.8}},"encoding":{
"x":{"field":"s","type":"ordinal","axis":{"orient":"bottom","labels":false,"ticks":false,"domain":false,"title":"Glial subset MCAD-RNAi","titleFontWeight":"bold","titleFontSize":10.5,"titlePadding":9}},
"y":{"field":"m","type":"quantitative","stack":null,"axis":null},
"color":{"field":"k","type":"nominal","scale":{"domain":["En vs UAS","En vs GS","Cx vs UAS","Cx vs GS"],"range":["#f6ee9e","#f5a631","#ea4f43","#911b4f"]},
"legend":{"title":"En    Cx","orient":"bottom-left","offset":0,"columns":2,"symbolType":"square","symbolSize":110,"symbolStrokeColor":"#333","symbolStrokeWidth":0.5,"labelExpr":"indexof(datum.label,'En')==0 ? '' : slice(datum.label,3)","fillColor":"white","strokeColor":"#333","padding":3,"titleFontWeight":"normal","titleFontSize":10,"labelFontSize":10,"labelFontWeight":"bold","columnPadding":2,"rowPadding":1,"labelOffset":2}}}},
{"data":{"values":[{}]},"mark":{"type":"rule","color":"black","strokeWidth":1},"encoding":{"y":{"datum":0,"type":"quantitative","axis":null}}},
{"data":{"name":"D_dots"},"mark":{"type":"point","shape":"circle","size":6,"filled":true,"color":"#9a9a9a","opacity":0.9},"encoding":{
"x":{"field":"s","type":"ordinal","axis":null},
"xOffset":{"field":"j","type":"ordinal"},"y":{"field":"v","type":"quantitative","axis":null}}},
{"data":{"name":"D_bars"},"mark":{"type":"rule","color":"black","strokeWidth":1.5},"encoding":{
"x":{"field":"s","type":"ordinal","axis":null},
"y":{"field":"lo","type":"quantitative","axis":null},"y2":{"field":"hi"}}},
{"data":{"name":"D_bars"},"mark":{"type":"tick","color":"black","size":5,"thickness":1.5,"orient":"horizontal"},"encoding":{
"x":{"field":"s","type":"ordinal","axis":null},
"y":{"field":"lo","type":"quantitative","axis":null}}},
{"data":{"name":"D_bars"},"mark":{"type":"tick","color":"black","size":5,"thickness":1.5,"orient":"horizontal"},"encoding":{
"x":{"field":"s","type":"ordinal","axis":null},
"y":{"field":"hi","type":"quantitative","axis":null}}},
{"data":{"name":"D_slots"},"mark":{"type":"bar"},"encoding":{
"x":{"field":"s","type":"ordinal","axis":{"orient":"top","values":[3,15,27],"labelOffset":4.7,"labelExpr":"datum.value == 3 ? 'baseline 18C' : datum.value == 15 ? 'induction 31C' : 'recovery 18C'","labelAngle":0,"labelAlign":"center","ticks":false,"domain":false,"title":null,"labelFontSize":11,"labelPadding":4}},
"y":{"datum":193,"type":"quantitative","axis":null},"y2":{"datum":213},
"color":{"condition":{"test":"datum.ph == 'ind'","value":"#ec2024"},"value":"black"}}},
{"data":{"name":"D_text"},"mark":{"type":"text","fontSize":10,"fontWeight":"bold","baseline":"middle","color":"black"},"encoding":{
"x":{"field":"s","type":"ordinal","bandPosition":1,"axis":null},
"y":{"field":"y","type":"quantitative","axis":null},"text":{"field":"t"}}},
{"data":{"name":"D_ns"},"mark":{"type":"rule","color":"black","strokeWidth":1.5},"encoding":{
"x":{"field":"s0","type":"ordinal","axis":null},"x2":{"field":"s1"},
"y":{"field":"y","type":"quantitative","axis":null}}}
]},
{"width":10,"height":25,"data":{"values":[]},"mark":"point","view":{"stroke":null}},
{"hconcat":[
{"width":237,"height":159,"view":{"stroke":null},
"title":{"text":"E","anchor":"start","frame":"group","fontSize":17,"fontWeight":"bold","dx":-63,"offset":-21,"baseline":"alphabetic","color":"black"},
"resolve":{"scale":{"xOffset":"independent"},"axis":{"x":"independent","y":"independent"}},
"layer":[
{"data":{"name":"E_bars"},"mark":{"type":"bar"},"encoding":{
"x":{"field":"c","type":"nominal","sort":["Cpt1-RNAi","MCAD-RNAi","Echs1-RNAi","ACAA-RNAi"],"scale":{"paddingInner":0.18,"paddingOuter":0.03,"range":[11,237]},"axis":{"title":null,"labelAngle":-45,"labelFontSize":10.5,"domain":true,"labelPadding":2}},
"xOffset":{"field":"k","type":"nominal","sort":["Glia vs UAS","Glia vs GS","Neurons vs UAS","Neurons vs GS"],"scale":{"paddingInner":0.15}},
"y":{"field":"m","type":"quantitative","stack":null,"scale":{"domain":[-100,50],"nice":false},"axis":{"values":[-100,-50,0,50],"title":["Difference in average sleep bout","duration per 24hrs vs. controls"],"titlePadding":8,"offset":-11}},
"color":{"field":"k","type":"nominal","scale":{"domain":["Glia vs UAS","Glia vs GS","Neurons vs UAS","Neurons vs GS"],"range":["#3cc43c","#2a6e2e","#3a8fe3","#1c1caa"]},"legend":null}}},
{"data":{"name":"E_bars"},"mark":{"type":"point","opacity":0},"encoding":{
"x":{"field":"c","type":"nominal","sort":["Cpt1-RNAi","MCAD-RNAi","Echs1-RNAi","ACAA-RNAi"],"axis":null},
"y":{"field":"m","type":"quantitative","axis":{"orient":"right","grid":true,"gridColor":"black","gridWidth":1.5,"values":[0],"labels":false,"ticks":false,"domain":true,"title":null,"zindex":1}}}},
{"data":{"name":"E_dots"},"mark":{"type":"point","shape":"circle","size":10,"filled":true,"fill":"#eeeeee","fillOpacity":0.5,"stroke":"#7a7a7a","strokeWidth":0.7},"encoding":{
"x":{"field":"c","type":"nominal","sort":["Cpt1-RNAi","MCAD-RNAi","Echs1-RNAi","ACAA-RNAi"],"axis":null},
"xOffset":{"field":"s","type":"ordinal"},"y":{"field":"v","type":"quantitative","axis":null}}},
{"data":{"name":"E_bars"},"mark":{"type":"rule","color":"black","strokeWidth":1.5},"encoding":{
"x":{"field":"c","type":"nominal","sort":["Cpt1-RNAi","MCAD-RNAi","Echs1-RNAi","ACAA-RNAi"],"axis":null},
"xOffset":{"field":"k","type":"nominal","sort":["Glia vs UAS","Glia vs GS","Neurons vs UAS","Neurons vs GS"],"scale":{"paddingInner":0.15}},
"y":{"field":"lo","type":"quantitative","axis":null},"y2":{"field":"hi"}}},
{"data":{"name":"E_bars"},"mark":{"type":"tick","color":"black","size":5,"thickness":1.5,"orient":"horizontal"},"encoding":{
"x":{"field":"c","type":"nominal","sort":["Cpt1-RNAi","MCAD-RNAi","Echs1-RNAi","ACAA-RNAi"],"axis":null},
"xOffset":{"field":"k","type":"nominal","sort":["Glia vs UAS","Glia vs GS","Neurons vs UAS","Neurons vs GS"],"scale":{"paddingInner":0.15}},
"y":{"field":"lo","type":"quantitative","axis":null}}},
{"data":{"name":"E_bars"},"mark":{"type":"tick","color":"black","size":5,"thickness":1.5,"orient":"horizontal"},"encoding":{
"x":{"field":"c","type":"nominal","sort":["Cpt1-RNAi","MCAD-RNAi","Echs1-RNAi","ACAA-RNAi"],"axis":{"orient":"top","title":"Mean sleep episode duration","labels":false,"ticks":false,"domain":true,"titlePadding":10,"titleFontSize":11.5}},
"xOffset":{"field":"k","type":"nominal","sort":["Glia vs UAS","Glia vs GS","Neurons vs UAS","Neurons vs GS"],"scale":{"paddingInner":0.15}},
"y":{"field":"hi","type":"quantitative","axis":null}}},
{"data":{"name":"E_stars"},"mark":{"type":"text","fontSize":10,"fontWeight":"bold","baseline":"middle","color":"black"},"encoding":{
"x":{"field":"c","type":"nominal","sort":["Cpt1-RNAi","MCAD-RNAi","Echs1-RNAi","ACAA-RNAi"],"axis":null},
"xOffset":{"field":"p","type":"nominal","sort":["g","n"]},
"y":{"field":"y","type":"quantitative","axis":null},"text":{"field":"t"}}}
]},
{"width":228,"height":159,
"title":{"text":"F","anchor":"start","frame":"group","fontSize":17,"fontWeight":"bold","dx":-55,"offset":-21,"baseline":"alphabetic","color":"black"},
"resolve":{"scale":{"xOffset":"independent"},"axis":{"x":"independent","y":"independent"}},
"layer":[
{"data":{"name":"F_bars"},"mark":{"type":"bar"},"encoding":{
"x":{"field":"c","type":"nominal","sort":["Cpt1-RNAi","MCAD-RNAi","Echs1-RNAi","ACAA-RNAi"],"scale":{"paddingInner":0.18,"paddingOuter":0.03},"axis":{"title":null,"labelAngle":-45,"labelFontSize":10.5,"domain":false,"labelPadding":2}},
"xOffset":{"field":"k","type":"nominal","sort":["Glia vs UAS","Glia vs GS","Neurons vs UAS","Neurons vs GS"],"scale":{"paddingInner":0.15}},
"y":{"field":"m","type":"quantitative","stack":null,"scale":{"domain":[-2,3],"nice":false},"axis":{"values":[-2,-1,0,1,2,3],"title":["Difference in wake activity counts","per 24hrs vs. controls"],"titlePadding":8}},
"color":{"field":"k","type":"nominal","scale":{"domain":["Glia vs UAS","Glia vs GS","Neurons vs UAS","Neurons vs GS"],"range":["#3cc43c","#2a6e2e","#3a8fe3","#1c1caa"]},
"legend":{"title":"Glia  Neurons","orient":"none","legendX":86,"legendY":2,"columns":2,"symbolType":"square","symbolSize":120,"symbolStrokeColor":"#333","symbolStrokeWidth":0.5,"labelExpr":"indexof(datum.label,'Glia')==0 ? '' : replace(datum.label,'Neurons ','')","fillColor":"white","strokeColor":"#333","padding":3,"titleFontWeight":"normal","titleFontSize":10,"labelFontSize":10,"columnPadding":2,"rowPadding":1,"labelOffset":2}}}},
{"data":{"values":[{}]},"mark":{"type":"rule","color":"black","strokeWidth":1.5},"encoding":{"y":{"datum":0,"type":"quantitative","axis":null}}},
{"data":{"name":"F_dots"},"mark":{"type":"point","shape":"circle","size":10,"filled":true,"fill":"#eeeeee","fillOpacity":0.5,"stroke":"#7a7a7a","strokeWidth":0.7},"encoding":{
"x":{"field":"c","type":"nominal","sort":["Cpt1-RNAi","MCAD-RNAi","Echs1-RNAi","ACAA-RNAi"],"axis":null},
"xOffset":{"field":"s","type":"ordinal"},"y":{"field":"v","type":"quantitative","axis":null}}},
{"data":{"name":"F_bars"},"mark":{"type":"rule","color":"black","strokeWidth":1.5},"encoding":{
"x":{"field":"c","type":"nominal","sort":["Cpt1-RNAi","MCAD-RNAi","Echs1-RNAi","ACAA-RNAi"],"axis":null},
"xOffset":{"field":"k","type":"nominal","sort":["Glia vs UAS","Glia vs GS","Neurons vs UAS","Neurons vs GS"],"scale":{"paddingInner":0.15}},
"y":{"field":"lo","type":"quantitative","axis":null},"y2":{"field":"hi"}}},
{"data":{"name":"F_bars"},"mark":{"type":"tick","color":"black","size":5,"thickness":1.5,"orient":"horizontal"},"encoding":{
"x":{"field":"c","type":"nominal","sort":["Cpt1-RNAi","MCAD-RNAi","Echs1-RNAi","ACAA-RNAi"],"axis":null},
"xOffset":{"field":"k","type":"nominal","sort":["Glia vs UAS","Glia vs GS","Neurons vs UAS","Neurons vs GS"],"scale":{"paddingInner":0.15}},
"y":{"field":"lo","type":"quantitative","axis":null}}},
{"data":{"name":"F_bars"},"mark":{"type":"tick","color":"black","size":5,"thickness":1.5,"orient":"horizontal"},"encoding":{
"x":{"field":"c","type":"nominal","sort":["Cpt1-RNAi","MCAD-RNAi","Echs1-RNAi","ACAA-RNAi"],"axis":{"orient":"top","title":"Activity index","labels":false,"ticks":false,"domain":false,"titlePadding":10,"titleFontSize":11.5}},
"xOffset":{"field":"k","type":"nominal","sort":["Glia vs UAS","Glia vs GS","Neurons vs UAS","Neurons vs GS"],"scale":{"paddingInner":0.15}},
"y":{"field":"hi","type":"quantitative","axis":null}}},
{"data":{"name":"F_stars"},"mark":{"type":"text","fontSize":10,"fontWeight":"bold","baseline":"middle","color":"black"},"encoding":{
"x":{"field":"c","type":"nominal","sort":["Cpt1-RNAi","MCAD-RNAi","Echs1-RNAi","ACAA-RNAi"],"axis":null},
"xOffset":{"field":"p","type":"nominal","sort":["g","n"]},
"y":{"field":"y","type":"quantitative","axis":null},"text":{"field":"t"}}}
]}
],"spacing":20,"resolve":{"scale":{"color":"independent"},"legend":{"color":"independent"}}}
]
}
